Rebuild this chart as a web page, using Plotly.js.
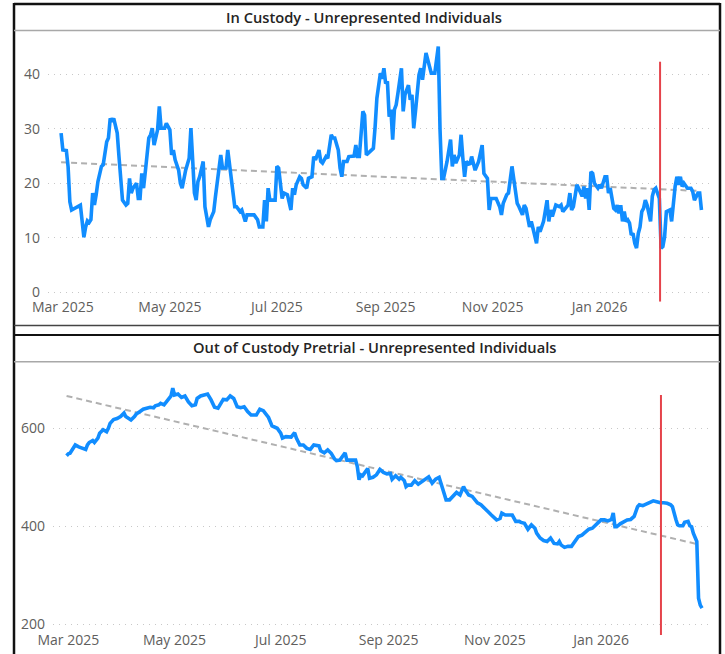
<!DOCTYPE html>
<html>
<head>
<meta charset="utf-8">
<script src="https://cdn.plot.ly/plotly-3.0.1.min.js"></script>
<style>html,body{margin:0;padding:0;background:#fff;}#chart{width:725px;height:654px;}</style>
</head>
<body>
<div id="chart"></div>
<script>
// ---------- DATA ----------
const topTitle = 'In Custody - Unrepresented Individuals';
const bottomTitle = 'Out of Custody Pretrial - Unrepresented Individuals';

const inCustodyDates = [
'2025-02-28','2025-03-01','2025-03-03','2025-03-04','2025-03-05','2025-03-06','2025-03-11','2025-03-12','2025-03-13','2025-03-14',
'2025-03-15','2025-03-16','2025-03-17','2025-03-18','2025-03-19','2025-03-20','2025-03-21','2025-03-23','2025-03-24','2025-03-26',
'2025-03-27','2025-03-28','2025-03-29','2025-03-30','2025-04-01','2025-04-02','2025-04-03','2025-04-04','2025-04-06','2025-04-07',
'2025-04-08','2025-04-09','2025-04-10','2025-04-12','2025-04-13','2025-04-14','2025-04-15','2025-04-16','2025-04-17','2025-04-19',
'2025-04-20','2025-04-21','2025-04-22','2025-04-24','2025-04-25','2025-04-26','2025-04-28','2025-04-29','2025-05-01','2025-05-02',
'2025-05-03','2025-05-04','2025-05-06','2025-05-07','2025-05-08','2025-05-09','2025-05-10','2025-05-12','2025-05-13','2025-05-14',
'2025-05-15','2025-05-16','2025-05-17','2025-05-18','2025-05-20','2025-05-21','2025-05-22','2025-05-23','2025-05-24','2025-05-26',
'2025-05-27','2025-05-29','2025-05-30','2025-05-31','2025-06-02','2025-06-03','2025-06-04','2025-06-06','2025-06-07','2025-06-08',
'2025-06-10','2025-06-11','2025-06-13','2025-06-14','2025-06-18','2025-06-20','2025-06-21','2025-06-23','2025-06-24','2025-06-25',
'2025-06-26','2025-06-27','2025-06-30','2025-07-01','2025-07-02','2025-07-04','2025-07-05','2025-07-07','2025-07-09','2025-07-10',
'2025-07-11','2025-07-12','2025-07-14','2025-07-15','2025-07-16','2025-07-18','2025-07-19','2025-07-21','2025-07-22','2025-07-23',
'2025-07-25','2025-07-26','2025-07-27','2025-07-29','2025-07-30','2025-08-01','2025-08-02','2025-08-03','2025-08-05','2025-08-06',
'2025-08-07','2025-08-08','2025-08-10','2025-08-11','2025-08-13','2025-08-14','2025-08-15','2025-08-16','2025-08-17','2025-08-18',
'2025-08-19','2025-08-20','2025-08-21','2025-08-23','2025-08-24','2025-08-25','2025-08-26','2025-08-27','2025-08-29','2025-08-30',
'2025-08-31','2025-09-01','2025-09-02','2025-09-03','2025-09-04','2025-09-05','2025-09-06','2025-09-07','2025-09-08','2025-09-10',
'2025-09-11','2025-09-12','2025-09-14','2025-09-15','2025-09-16','2025-09-17','2025-09-18','2025-09-20','2025-09-21','2025-09-22',
'2025-09-24','2025-09-25','2025-09-27','2025-09-29','2025-09-30','2025-10-01','2025-10-02','2025-10-03','2025-10-04','2025-10-06',
'2025-10-08','2025-10-09','2025-10-10','2025-10-11','2025-10-13','2025-10-14','2025-10-15','2025-10-16','2025-10-17','2025-10-19',
'2025-10-20','2025-10-21','2025-10-22','2025-10-24','2025-10-25','2025-10-26','2025-10-27','2025-10-29','2025-10-30','2025-10-31',
'2025-11-03','2025-11-05','2025-11-06','2025-11-07','2025-11-09','2025-11-10','2025-11-12','2025-11-13','2025-11-15','2025-11-16',
'2025-11-18','2025-11-19','2025-11-20','2025-11-22','2025-11-23','2025-11-24','2025-11-26','2025-11-27','2025-11-28','2025-11-30',
'2025-12-02','2025-12-03','2025-12-04','2025-12-05','2025-12-06','2025-12-07','2025-12-09','2025-12-10','2025-12-11','2025-12-13',
'2025-12-14','2025-12-15','2025-12-16','2025-12-17','2025-12-19','2025-12-20','2025-12-22','2025-12-23','2025-12-24','2025-12-25',
'2025-12-26','2025-12-27','2025-12-28','2025-12-29','2025-12-31','2026-01-01','2026-01-02','2026-01-04','2026-01-05','2026-01-06',
'2026-01-07','2026-01-09','2026-01-10','2026-01-11','2026-01-12','2026-01-13','2026-01-14','2026-01-15','2026-01-16','2026-01-17',
'2026-01-18','2026-01-19','2026-01-20','2026-01-21','2026-01-22','2026-01-23','2026-01-24','2026-01-25','2026-01-26','2026-01-27',
'2026-01-28','2026-01-30','2026-01-31','2026-02-01','2026-02-02','2026-02-04','2026-02-05','2026-02-06','2026-02-07','2026-02-08',
'2026-02-10','2026-02-11','2026-02-12','2026-02-13','2026-02-14','2026-02-15','2026-02-16','2026-02-17','2026-02-18','2026-02-20',
'2026-02-22','2026-02-23','2026-02-24','2026-02-26','2026-02-27','2026-02-28'
];
const inCustodyValues = [
29.2,26.1,26.0,23.0,16.6,15.1,16.0,13.0,10.1,12.0,
13.1,12.8,13.3,18.2,16.0,17.9,20.3,23.1,23.4,27.6,
28.3,31.9,31.3,31.9,29.2,24.9,20.6,16.9,16.0,16.3,
20.9,18.2,19.1,20.0,17.2,17.2,21.8,19.1,22.1,28.3,
28.9,30.1,27.0,29.8,34.1,30.1,30.1,31.0,29.8,25.2,
26.1,24.3,22.4,20.0,19.1,21.2,22.4,24.6,30.1,24.3,
18.2,16.9,20.3,21.2,24.0,15.7,13.6,12.0,13.3,14.8,
17.6,22.4,25.2,22.8,22.8,26.1,23.4,18.2,15.7,15.7,
14.8,15.1,13.0,14.2,14.2,13.3,12.0,12.0,16.9,13.0,
19.1,16.9,16.9,23.1,22.8,17.2,18.2,17.9,15.1,19.1,
17.9,19.7,21.2,20.9,19.7,19.1,20.9,21.2,24.9,24.3,
26.1,24.0,23.7,24.9,24.6,28.9,28.3,28.3,26.1,22.8,
21.2,24.0,24.0,24.9,25.0,25.0,27.0,24.9,24.9,29.2,
33.2,32.5,25.2,25.8,26.1,26.4,30.4,35.6,40.2,39.2,
41.1,38.3,38.7,32.2,33.5,28.0,33.5,34.4,36.5,41.1,
33.2,36.2,38.0,35.3,36.2,30.1,33.2,39.9,41.1,39.0,
43.9,42.6,40.2,40.2,42.9,45.1,29.8,20.9,20.9,24.0,
28.0,23.1,25.2,23.7,25.2,28.9,24.6,21.2,24.0,23.4,
24.9,23.4,22.4,24.0,25.2,27.0,21.8,20.9,15.1,17.2,
17.2,15.7,14.2,16.3,17.9,18.2,23.1,20.6,16.3,15.7,
14.2,16.0,15.4,12.0,13.0,11.7,9.0,12.0,11.1,13.0,
16.9,13.0,15.1,13.9,14.8,16.0,15.7,16.0,14.8,15.7,
16.0,18.2,15.1,15.7,19.7,19.1,17.6,19.4,17.2,19.1,
15.1,22.1,21.8,20.0,19.1,19.7,19.1,21.2,21.2,18.2,
19.1,15.4,15.1,16.0,14.5,16.0,13.0,14.8,13.0,13.3,
12.7,10.5,10.8,9.0,8.1,10.8,12.0,14.8,15.4,16.9,
16.0,13.0,17.6,18.8,19.1,17.2,8.1,8.4,10.2,14.8,
15.1,13.0,16.9,19.4,21.2,19.7,21.2,19.4,20.0,19.1,
19.1,18.5,16.9,18.2,18.2,15.1
];

const pretrialDates = [
'2025-02-28','2025-03-01','2025-03-02','2025-03-04','2025-03-05','2025-03-07','2025-03-09','2025-03-11','2025-03-12','2025-03-13',
'2025-03-15','2025-03-16','2025-03-18','2025-03-19','2025-03-21','2025-03-23','2025-03-24','2025-03-25','2025-03-27','2025-03-29',
'2025-03-31','2025-04-02','2025-04-03','2025-04-05','2025-04-06','2025-04-08','2025-04-09','2025-04-11','2025-04-13','2025-04-15',
'2025-04-17','2025-04-19','2025-04-20','2025-04-22','2025-04-23','2025-04-25','2025-04-26','2025-04-27','2025-04-29','2025-04-30',
'2025-05-01','2025-05-03','2025-05-05','2025-05-07','2025-05-09','2025-05-11','2025-05-13','2025-05-14','2025-05-16','2025-05-18',
'2025-05-20','2025-05-22','2025-05-24','2025-05-26','2025-05-28','2025-05-29','2025-05-31','2025-06-02','2025-06-04','2025-06-06',
'2025-06-08','2025-06-10','2025-06-12','2025-06-14','2025-06-17','2025-06-19','2025-06-21','2025-06-24','2025-06-26','2025-06-29',
'2025-07-01','2025-07-02','2025-07-04','2025-07-07','2025-07-09','2025-07-10','2025-07-12','2025-07-14','2025-07-16','2025-07-18',
'2025-07-20','2025-07-23','2025-07-24','2025-07-26','2025-07-28','2025-07-30','2025-08-01','2025-08-02','2025-08-04','2025-08-06',
'2025-08-07','2025-08-08','2025-08-11','2025-08-13','2025-08-14','2025-08-15','2025-08-16','2025-08-17','2025-08-18','2025-08-20',
'2025-08-21','2025-08-23','2025-08-25','2025-08-27','2025-08-29','2025-08-31','2025-09-02','2025-09-03','2025-09-05','2025-09-07',
'2025-09-08','2025-09-10','2025-09-11','2025-09-12','2025-09-14','2025-09-16','2025-09-18','2025-09-20','2025-09-22','2025-09-24',
'2025-09-26','2025-09-28','2025-09-30','2025-10-01','2025-10-03','2025-10-04','2025-10-06','2025-10-08','2025-10-10','2025-10-12',
'2025-10-14','2025-10-15','2025-10-17','2025-10-19','2025-10-22','2025-10-24','2025-10-25','2025-10-28','2025-10-30','2025-11-02',
'2025-11-04','2025-11-05','2025-11-07','2025-11-09','2025-11-11','2025-11-13','2025-11-15','2025-11-16','2025-11-18','2025-11-20',
'2025-11-22','2025-11-24','2025-11-25','2025-11-27','2025-11-29','2025-12-01','2025-12-03','2025-12-05','2025-12-07','2025-12-08',
'2025-12-09','2025-12-11','2025-12-13','2025-12-15','2025-12-17','2025-12-19','2025-12-21','2025-12-23','2025-12-25','2025-12-27',
'2025-12-29','2025-12-31','2026-01-01','2026-01-03','2026-01-05','2026-01-07','2026-01-08','2026-01-09','2026-01-10','2026-01-12',
'2026-01-14','2026-01-16','2026-01-18','2026-01-20','2026-01-22','2026-01-23','2026-01-25','2026-01-27','2026-01-29','2026-01-31',
'2026-02-02','2026-02-04','2026-02-06','2026-02-08','2026-02-10','2026-02-11','2026-02-13','2026-02-14','2026-02-15','2026-02-17',
'2026-02-18','2026-02-20','2026-02-21','2026-02-22','2026-02-23','2026-02-25','2026-02-26','2026-02-27','2026-02-28'
];
const pretrialValues = [
544,548,549,559,566,562,559,557,566,571,
575,571,580,590,597,593,600,610,618,620,
624,631,624,618,617,624,629,634,639,641,
643,642,646,648,651,648,652,657,666,682,
668,670,663,666,654,646,648,661,666,668,
670,658,643,641,654,659,658,666,661,644,
642,644,634,627,627,639,636,622,605,600,
590,580,583,582,591,580,566,566,559,557,
566,564,554,550,556,549,537,534,535,546,
550,535,535,535,522,495,505,503,508,518,
498,500,505,516,510,507,508,496,503,496,
500,493,481,484,484,493,486,491,495,501,
488,496,500,488,467,454,454,461,469,464,
481,474,464,461,448,444,440,430,423,413,
416,427,423,423,423,410,410,408,406,394,
403,396,386,376,371,369,376,365,364,369,
362,357,359,359,369,379,382,389,394,396,
403,410,413,413,411,414,427,399,399,405,
410,413,414,420,440,444,442,446,448,452,
450,448,448,447,444,440,414,403,401,401,
408,410,401,399,386,369,253,239,233
];

// Linear trend lines (start / end)
const trendDates = ['2025-02-28', '2026-02-26'];
const inCustodyTrend = [23.85, 18.6];
const pretrialTrend = [666, 363];

// Reference marker date (red vertical line) and its extent
const markerDate = '2026-02-04 10:00';
const topMarkerSpan = [-1.7, 42.3];
const bottomMarkerSpan = [178, 668];

const xTickVals = ['2025-03-01','2025-05-01','2025-07-01','2025-09-01','2025-11-01','2026-01-01'];
const topYTicks = [0, 10, 20, 30, 40];
const bottomYTicks = [200, 400, 600];

// ---------- CHART ----------
const W = 725, H = 654;
const px = v => v / W;          // layout helpers (pixel -> paper)
const py = v => 1 - v / H;

const blue = '#118DFF';
const tickFont = {family: 'Open Sans, Noto Sans, sans-serif', size: 14, color: '#605E5C'};
const titleFont = {family: 'Open Sans, Noto Sans, sans-serif', size: 14.7, weight: 600, color: '#252423'};

const traces = [
  {x: trendDates, y: inCustodyTrend, xaxis: 'x', yaxis: 'y', mode: 'lines',
   line: {color: '#B0B0B0', width: 2, dash: '6px,4px'}, hoverinfo: 'skip'},
  {x: inCustodyDates, y: inCustodyValues, xaxis: 'x', yaxis: 'y', mode: 'lines',
   line: {color: blue, width: 3.6, shape: 'linear'}},
  {x: trendDates, y: pretrialTrend, xaxis: 'x2', yaxis: 'y2', mode: 'lines',
   line: {color: '#B0B0B0', width: 2, dash: '6px,4px'}, hoverinfo: 'skip'},
  {x: pretrialDates, y: pretrialValues, xaxis: 'x2', yaxis: 'y2', mode: 'lines',
   line: {color: blue, width: 3.6}}
];

const xCommon = {
  type: 'date', showgrid: false, zeroline: false, showline: false, ticks: '',
  tickmode: 'array', tickvals: xTickVals, tickformat: '%b %Y', tickfont: tickFont,
  fixedrange: true
};
const yCommon = {
  showgrid: true, gridcolor: '#C8C8C8', gridwidth: 1, griddash: '1px,5px',
  zeroline: false, showline: false, ticks: '', tickmode: 'array', tickfont: tickFont,
  ticklabelstandoff: 7, fixedrange: true
};

const layout = {
  width: W, height: H, margin: {l: 0, r: 0, t: 0, b: 0, pad: 0},
  paper_bgcolor: '#fff', plot_bgcolor: '#fff', showlegend: false,
  font: {family: 'Open Sans, Noto Sans, sans-serif'},
  xaxis: Object.assign({}, xCommon, {anchor: 'y', domain: [px(48), px(710)],
    range: ['2025-02-20 13:00', '2026-03-04 21:00'], ticklabelstandoff: -5}),
  yaxis: Object.assign({}, yCommon, {anchor: 'x', domain: [py(302.1), py(41)],
    range: [-1.8, 46.1], tickvals: topYTicks}),
  xaxis2: Object.assign({}, xCommon, {anchor: 'y2', domain: [px(53), px(710)],
    range: ['2025-02-20 05:00', '2026-03-04 14:00'], ticklabelstandoff: -6}),
  yaxis2: Object.assign({}, yCommon, {anchor: 'x2', domain: [py(635.5), py(370)],
    range: [177.1, 719], tickvals: bottomYTicks}),
  annotations: [
    {text: topTitle, xref: 'paper', yref: 'paper', x: px(364), y: py(17),
     xanchor: 'center', yanchor: 'middle', showarrow: false, font: titleFont},
    {text: bottomTitle, xref: 'paper', yref: 'paper', x: px(374), y: py(347),
     xanchor: 'center', yanchor: 'middle', showarrow: false, font: titleFont}
  ],
  shapes: [
    // frame
    {type: 'line', xref: 'paper', yref: 'paper', x0: px(14), x1: px(14), y0: 0, y1: py(3), line: {color: '#111', width: 2.5}},
    {type: 'line', xref: 'paper', yref: 'paper', x0: px(720), x1: px(720), y0: 0, y1: py(3), line: {color: '#111', width: 2.5}},
    {type: 'line', xref: 'paper', yref: 'paper', x0: px(14), x1: px(720), y0: py(4), y1: py(4), line: {color: '#111', width: 2.5}},
    {type: 'line', xref: 'paper', yref: 'paper', x0: px(14), x1: px(720), y0: py(30.5), y1: py(30.5), line: {color: '#A8A8A8', width: 1.5}},
    {type: 'line', xref: 'paper', yref: 'paper', x0: px(14), x1: px(720), y0: py(325.5), y1: py(325.5), line: {color: '#444', width: 1.5}},
    {type: 'line', xref: 'paper', yref: 'paper', x0: px(14), x1: px(720), y0: py(335), y1: py(335), line: {color: '#111', width: 2}},
    {type: 'line', xref: 'paper', yref: 'paper', x0: px(14), x1: px(720), y0: py(361.7), y1: py(361.7), line: {color: '#A8A8A8', width: 1.5}},
    // red reference lines
    {type: 'line', xref: 'x', yref: 'y', x0: markerDate, x1: markerDate, y0: topMarkerSpan[0], y1: topMarkerSpan[1],
     line: {color: '#E5434B', width: 2}, layer: 'above'},
    {type: 'line', xref: 'x2', yref: 'y2', x0: markerDate, x1: markerDate, y0: bottomMarkerSpan[0], y1: bottomMarkerSpan[1],
     line: {color: '#E5434B', width: 2}, layer: 'above'}
  ]
};

Plotly.newPlot('chart', traces, layout, {staticPlot: true, displayModeBar: false});
</script>
</body>
</html>
